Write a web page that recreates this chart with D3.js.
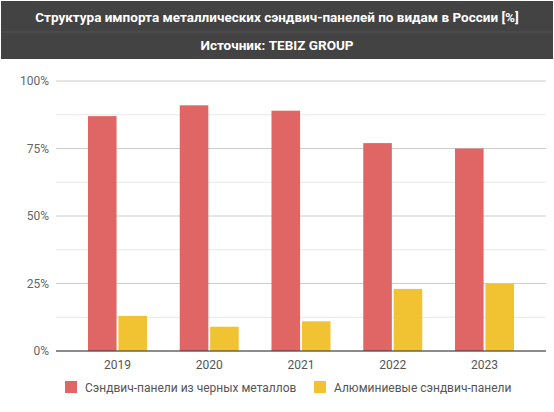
<!DOCTYPE html>
<html><head><meta charset="utf-8">
<script src="https://cdn.jsdelivr.net/npm/d3@7"></script>
<style>body{margin:0;background:#fff;font-family:Roboto,sans-serif}</style>
</head><body><div id="container"></div>
<script>
const years = ["2019", "2020", "2021", "2022", "2023"];
const seriesNames = ["Сэндвич-панели из черных металлов", "Алюминиевые сэндвич-панели"];
const ferrous = [87, 91, 89, 77, 75];
const aluminium = [13, 9, 11, 23, 25];
const yTicks = [0, 25, 50, 75, 100];
const colors = ["#e06666", "#f1c232"];

const width = 554, height = 412,
  margin = { top: 81, bottom: 61, left: 56, right: 8 };

const svg = d3.select("#container").append("svg")
  .attr("width", width).attr("height", height);

// header
svg.append("rect").attr("x", 1).attr("y", 1).attr("width", 552).attr("height", 58).attr("fill", "#434343");
svg.append("line").attr("x1", 1).attr("x2", 553).attr("y1", 32).attr("y2", 32).attr("stroke", "#555");
svg.append("text").attr("x", width / 2).attr("y", 22).attr("text-anchor", "middle")
  .attr("fill", "#fff").attr("font-weight", "bold").attr("font-size", 13.5)
  .text("Структура импорта металлических сэндвич-панелей по видам в России [%]");
svg.append("text").attr("x", width / 2).attr("y", 50).attr("text-anchor", "middle")
  .attr("fill", "#fff").attr("font-weight", "bold").attr("font-size", 13.5)
  .text("Источник: TEBIZ GROUP");

const x = d3.scaleBand().domain(years).range([margin.left, width - margin.right]).paddingInner(0).paddingOuter(0.17);
const x1 = d3.scaleBand().domain([0, 1]).range([-29.5, 29.5]).paddingInner(0.06);
const y = d3.scaleLinear().domain([0, 100]).range([height - margin.bottom, margin.top]);
const cx = d => x(d) + x.bandwidth() / 2;

// gridlines
svg.append("g").selectAll("line").data(d3.range(0, 101, 12.5)).join("line")
  .attr("x1", margin.left).attr("x2", width - margin.right)
  .attr("y1", d => y(d)).attr("y2", d => y(d))
  .attr("stroke", d => d % 25 === 0 ? "#ccc" : "#e8e8e8");

svg.append("g").selectAll("text").data(yTicks).join("text")
  .attr("x", margin.left - 7).attr("y", d => y(d) + 4).attr("text-anchor", "end")
  .attr("font-size", 12).attr("fill", "#666").text(d => d + "%");

const series = [ferrous, aluminium];
series.forEach((vals, s) => {
  svg.append("g").selectAll("rect").data(vals).join("rect")
    .attr("x", (d, i) => cx(years[i]) + x1(s)).attr("width", x1.bandwidth())
    .attr("y", d => y(d)).attr("height", d => y(0) - y(d))
    .attr("fill", colors[s]);
});

svg.append("line").attr("x1", margin.left).attr("x2", width - margin.right)
  .attr("y1", y(0)).attr("y2", y(0)).attr("stroke", "#333");

svg.append("g").selectAll("text").data(years).join("text")
  .attr("x", d => cx(d)).attr("y", y(0) + 18).attr("text-anchor", "middle")
  .attr("font-size", 12).attr("fill", "#555").text(d => d);

// legend
const lg = svg.append("g");
const lx = [65, 314];
seriesNames.forEach((n, i) => {
  lg.append("rect").attr("x", lx[i]).attr("y", 381).attr("width", 12).attr("height", 12).attr("fill", colors[i]);
  lg.append("text").attr("x", lx[i] + 20).attr("y", 391.5).attr("font-size", 12).attr("fill", "#555").text(n);
});
</script></body></html>
